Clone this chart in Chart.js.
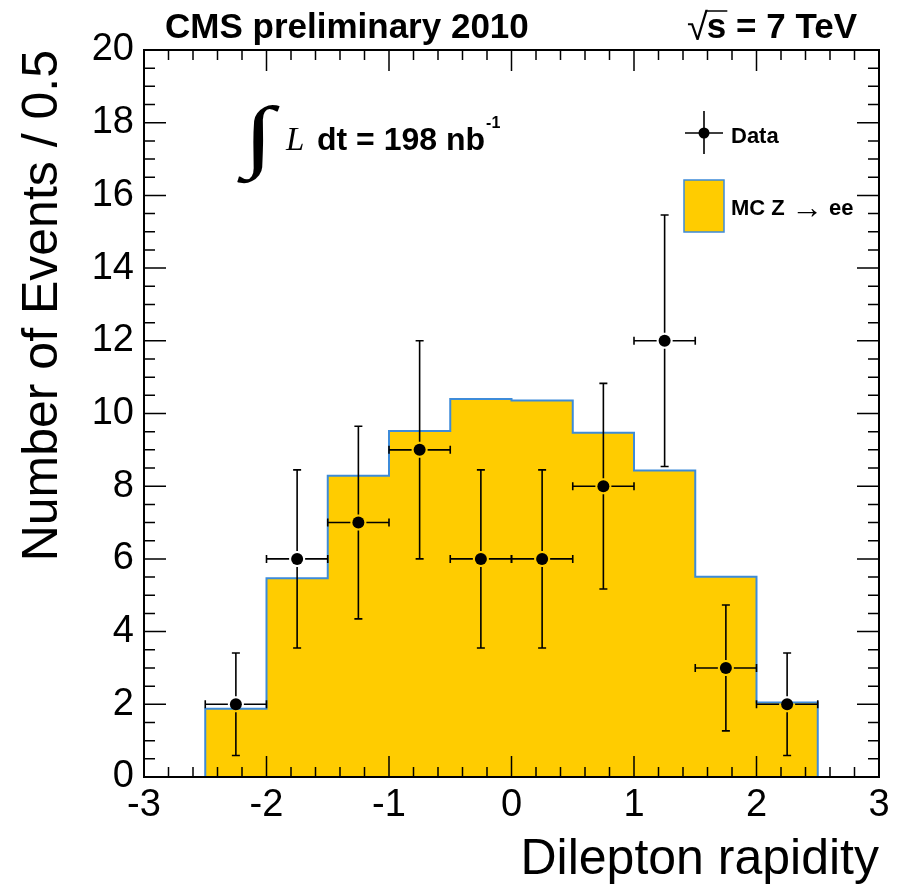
<!DOCTYPE html>
<html lang="en">
<head>
  <meta charset="UTF-8">
  <title>Dilepton rapidity</title>
  <script src="https://cdn.jsdelivr.net/npm/chart.js"></script>
  <style>
    body { margin: 0; background: #fff; }
    canvas { display: block; }
  </style>
</head>
<body>
  <canvas id="rapChart" width="909" height="888"></canvas>

  <script>
    // bin edges of the MC histogram and its contents
    const xEdges = [-2.5, -2, -1.5, -1, -0.5, 0, 0.5, 1, 1.5, 2, 2.5];
    const mcCounts = [1.88, 5.47, 8.29, 9.52, 10.40, 10.36, 9.47, 8.43, 5.51, 2.05];

    // data points (bin centres), counts and errors
    const dataX = [-2.25, -1.75, -1.25, -0.75, -0.25, 0.25, 0.75, 1.25, 1.75, 2.25];
    const dataCounts = [2, 6, 7, 9, 6, 6, 8, 12, 3, 2];
    const dataErrY = [1.41, 2.45, 2.65, 3.00, 2.45, 2.45, 2.83, 3.46, 1.73, 1.41];
    const dataErrX = [0.25, 0.25, 0.25, 0.25, 0.25, 0.25, 0.25, 0.25, 0.25, 0.25];

    const xTicks = [-3, -2, -1, 0, 1, 2, 3];
    const yTicks = [0, 2, 4, 6, 8, 10, 12, 14, 16, 18, 20];

    const yellow = '#ffcc00';
    const blue = '#3d8bd9';
    Chart.defaults.font.family = "'Liberation Sans', Arial, sans-serif";
    Chart.defaults.color = '#000';

    const histPoints = [{ x: xEdges[0], y: 0 }];
    mcCounts.forEach((v, i) => histPoints.push({ x: xEdges[i], y: v }));
    histPoints.push({ x: xEdges[xEdges.length - 1], y: 0 });

    const dataPoints = dataX.map((v, i) => ({ x: v, y: dataCounts[i] }));

    // error bars, frame with inward ticks, labels and legend
    const hepPlugin = {
      id: 'hep',
      afterDatasetsDraw(chart) {
        const { ctx, chartArea: a, scales: { x, y } } = chart;
        ctx.save();
        ctx.strokeStyle = '#000';
        ctx.lineWidth = 1.6;
        const gap = 8, cap = 4;
        dataX.forEach((xv, i) => {
          const px = x.getPixelForValue(xv);
          const py = y.getPixelForValue(dataCounts[i]);
          const xl = x.getPixelForValue(xv - dataErrX[i]);
          const xr = x.getPixelForValue(xv + dataErrX[i]);
          const yt = y.getPixelForValue(dataCounts[i] + dataErrY[i]);
          const yb = y.getPixelForValue(dataCounts[i] - dataErrY[i]);
          ctx.beginPath();
          ctx.moveTo(xl, py); ctx.lineTo(px - gap, py);
          ctx.moveTo(px + gap, py); ctx.lineTo(xr, py);
          ctx.moveTo(px, yt); ctx.lineTo(px, py - gap);
          ctx.moveTo(px, py + gap); ctx.lineTo(px, yb);
          ctx.moveTo(xl, py - cap); ctx.lineTo(xl, py + cap);
          ctx.moveTo(xr, py - cap); ctx.lineTo(xr, py + cap);
          ctx.moveTo(px - cap, yt); ctx.lineTo(px + cap, yt);
          ctx.moveTo(px - cap, yb); ctx.lineTo(px + cap, yb);
          ctx.stroke();
        });

        // ticks pointing inwards on all four sides
        ctx.lineWidth = 1.5;
        ctx.beginPath();
        for (let k = -15; k <= 15; k++) {
          const px = x.getPixelForValue(k * 0.2);
          const len = k % 5 === 0 ? 21 : 10;
          ctx.moveTo(px, a.bottom); ctx.lineTo(px, a.bottom - len);
          ctx.moveTo(px, a.top); ctx.lineTo(px, a.top + len);
        }
        for (let k = 0; k <= 40; k++) {
          const py = y.getPixelForValue(k * 0.5);
          const len = k % 4 === 0 ? 22 : 11;
          ctx.moveTo(a.left, py); ctx.lineTo(a.left + len, py);
          ctx.moveTo(a.right, py); ctx.lineTo(a.right - len, py);
        }
        ctx.stroke();

        ctx.lineWidth = 2;
        ctx.strokeRect(a.left, a.top, a.right - a.left, a.bottom - a.top);
        ctx.restore();
      },
      afterDraw(chart) {
        const { ctx } = chart;
        ctx.save();
        ctx.fillStyle = '#000';
        ctx.textBaseline = 'alphabetic';

        ctx.font = "bold 35px 'Liberation Sans'";
        ctx.textAlign = 'left';
        ctx.fillText('CMS preliminary 2010', 165, 38);

        // sqrt(s) = 7 TeV
        const rest = 's = 7 TeV';
        const wRest = ctx.measureText(rest).width;
        const wS = ctx.measureText('s').width;
        const sx = 857 - wRest;
        ctx.fillText(rest, sx, 38);
        ctx.font = "38px 'Liberation Sans'";
        ctx.textAlign = 'right';
        ctx.fillText('\u221A', sx + 1, 40);
        ctx.strokeStyle = '#000';
        ctx.lineWidth = 1.5;
        ctx.beginPath();
        ctx.moveTo(sx - 1, 11); ctx.lineTo(sx + wS + 1, 11);
        ctx.stroke();

        // luminosity
        ctx.textAlign = 'left';
        ctx.save();
        ctx.translate(243, 162);
        ctx.scale(1.4, 1);
        ctx.font = "bold 80px 'Liberation Serif'";
        ctx.fillText('\u222B', 0, 0);
        ctx.restore();
        ctx.font = "italic 33px 'Liberation Serif'";
        ctx.fillText('L', 286, 150);
        ctx.font = "bold 32px 'Liberation Sans'";
        ctx.fillText('dt = 198 nb', 317, 150);
        const wLum = ctx.measureText('dt = 198 nb').width;
        ctx.font = "bold 16px 'Liberation Sans'";
        ctx.fillText('-1', 317 + wLum + 1, 128);

        // legend
        ctx.lineWidth = 1.6;
        ctx.beginPath();
        ctx.moveTo(685, 133); ctx.lineTo(723, 133);
        ctx.moveTo(704, 111); ctx.lineTo(704, 154);
        ctx.stroke();
        ctx.beginPath();
        ctx.arc(704, 133, 5.5, 0, Math.PI * 2);
        ctx.fill();
        ctx.fillStyle = yellow;
        ctx.fillRect(684, 180, 40, 52);
        ctx.strokeStyle = blue;
        ctx.lineWidth = 1.5;
        ctx.strokeRect(684, 180, 40, 52);
        ctx.fillStyle = '#000';
        ctx.font = "bold 22px 'Liberation Sans'";
        ctx.fillText('Data', 731, 143);
        ctx.fillText('MC Z', 731, 215);
        const wMC = ctx.measureText('MC Z ').width;
        ctx.font = "32px 'Liberation Sans'";
        ctx.fillText('\u2192', 731 + wMC, 218);
        const wArr = ctx.measureText('\u2192').width;
        ctx.font = "bold 22px 'Liberation Sans'";
        ctx.fillText(' ee', 731 + wMC + wArr, 215);
        ctx.restore();
      }
    };

    const ctx = document.getElementById('rapChart').getContext('2d');

    const config = {
      type: 'line',
      data: {
        datasets: [
          {
            label: 'Data',
            data: dataPoints,
            showLine: false,
            pointRadius: 6,
            pointHoverRadius: 6,
            pointBackgroundColor: '#000',
            pointBorderWidth: 0,
            order: 0
          },
          {
            label: 'MC Z \u2192 ee',
            data: histPoints,
            stepped: true,
            borderColor: blue,
            borderWidth: 2,
            backgroundColor: yellow,
            fill: 'origin',
            pointRadius: 0,
            order: 1
          }
        ]
      },
      options: {
        responsive: false,
        animation: false,
        events: [],
        layout: { padding: { top: 50, right: 30, left: 0, bottom: 0 } },
        plugins: { legend: { display: false }, tooltip: { enabled: false } },
        scales: {
          x: {
            type: 'linear',
            min: -3,
            max: 3,
            afterBuildTicks: s => { s.ticks = xTicks.map(v => ({ value: v })); },
            afterFit: s => { s.height = 111; },
            grid: { display: false, drawTicks: false },
            border: { display: false },
            ticks: { font: { size: 38 }, padding: 6, autoSkip: false, maxRotation: 0 },
            title: {
              display: true,
              text: 'Dilepton rapidity',
              align: 'end',
              font: { size: 50 },
              padding: { top: 0, bottom: -2 }
            }
          },
          y: {
            min: 0,
            max: 20,
            afterBuildTicks: s => { s.ticks = yTicks.map(v => ({ value: v })); },
            afterFit: s => { s.width = 144; },
            grid: { display: false, drawTicks: false },
            border: { display: false },
            ticks: { font: { size: 38 }, padding: 10 },
            title: {
              display: true,
              text: 'Number of Events / 0.5',
              align: 'end',
              font: { size: 50 },
              padding: { top: 13, bottom: 0 }
            }
          }
        }
      },
      plugins: [hepPlugin]
    };

    const chart = new Chart(ctx, config);
  </script>
</body>
</html>
